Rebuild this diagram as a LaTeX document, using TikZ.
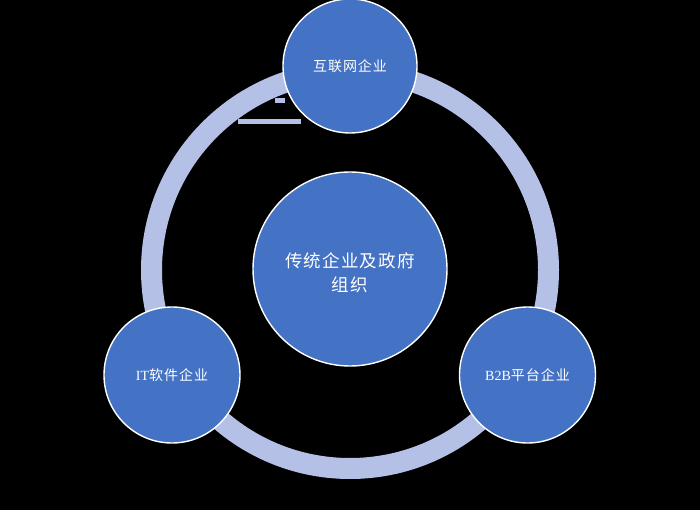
\documentclass[tikz,border=0pt]{standalone}
\usepackage{fontspec}
\setmainfont{Liberation Serif}
\newfontfamily\cjk[LetterSpace=7]{Noto Sans CJK SC}
\definecolor{ringc}{HTML}{B4C0E6}
\definecolor{nodec}{HTML}{4472C4}
\begin{document}
\begin{tikzpicture}[x=1pt,y=-1pt,
  bubble/.style={circle,fill=nodec,draw=white,line width=1.4pt,text=white,inner sep=0pt,align=center,font=\fontsize{14}{17}\selectfont},
  bigtext/.style={text=white,align=center,inner sep=0pt,font=\fontsize{17.5}{24}\selectfont}]
\useasboundingbox[fill=black] (0,0) rectangle (700,510);
\coordinate (c) at (350,270);
\draw[ringc,line width=21pt] (c) circle[radius=198.5];
\fill[ringc] (275,98) rectangle (285,103);
\fill[ringc] (238,119) rectangle (301,124);
\node[bubble,minimum size=194pt] (center) at (350,269) {};
\node[bigtext] (centertext) at (350,273) {{\cjk 传统企业及政府}\\{\cjk 组织}};
\node[bubble,minimum size=134pt] (top) at (350,66) {\cjk 互联网企业};
\node[bubble,minimum size=136pt] (left) at (172,375) {IT{\cjk 软件企业}};
\node[bubble,minimum size=136pt] (right) at (527.5,375) {B2B{\cjk 平台企业}};
\end{tikzpicture}
\end{document}
